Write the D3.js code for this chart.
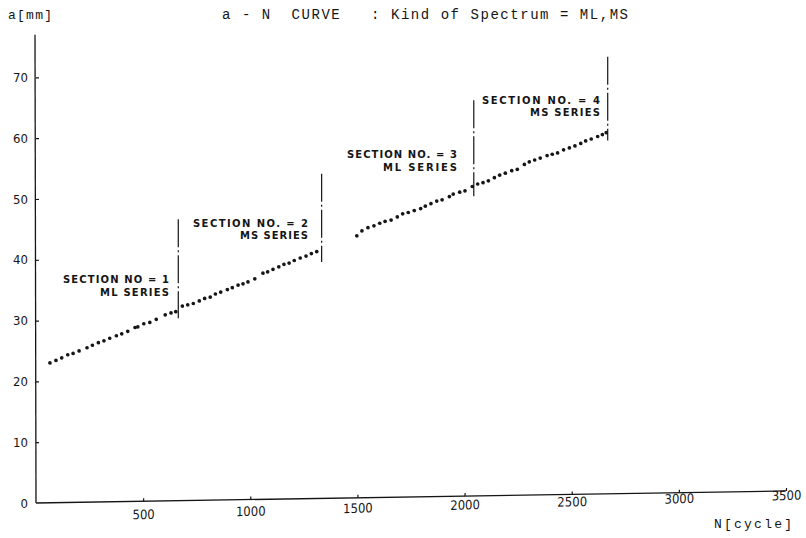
<!DOCTYPE html>
<html>
<head>
<meta charset="utf-8">
<script src="https://cdn.jsdelivr.net/npm/d3@7"></script>
<style>
  html, body { margin: 0; padding: 0; background: #fff; }
  svg { display: block; }
  text { white-space: pre; }
</style>
</head>
<body>
<svg id="chart" width="806" height="538"></svg>
<script>
// Crack length a [mm] against load cycles N, one dotted run per loading section.
const sec1N = [65, 93, 120, 148, 173, 201, 238, 263, 291, 317, 344, 375, 400, 428, 462, 475, 503, 531, 561, 603, 630, 652];
const sec1A = [23.0, 23.4, 23.8, 24.3, 24.5, 24.9, 25.4, 25.8, 26.2, 26.5, 26.9, 27.3, 27.6, 28.0, 28.6, 28.7, 29.2, 29.4, 29.9, 30.6, 30.9, 31.1];

const sec2N = [683, 708, 734, 762, 787, 813, 837, 862, 893, 916, 943, 966, 989, 1021, 1059, 1081, 1106, 1133, 1157, 1181, 1205, 1233, 1260, 1285, 1310];
const sec2A = [32.0, 32.2, 32.4, 32.8, 33.2, 33.4, 33.9, 34.2, 34.6, 34.9, 35.3, 35.5, 35.8, 36.3, 37.2, 37.4, 37.8, 38.2, 38.6, 38.8, 39.2, 39.6, 39.9, 40.3, 40.6];

const sec3N = [1497, 1521, 1549, 1577, 1604, 1629, 1657, 1686, 1711, 1737, 1765, 1795, 1817, 1843, 1870, 1895, 1929, 1947, 1977, 2002, 2036];
const sec3A = [43.1, 43.9, 44.4, 44.7, 45.1, 45.4, 45.6, 46.1, 46.6, 46.8, 47.1, 47.4, 47.8, 48.2, 48.6, 48.8, 49.3, 49.7, 50.0, 50.2, 50.9];

const sec4N = [2061, 2086, 2111, 2139, 2164, 2190, 2220, 2246, 2279, 2302, 2327, 2353, 2385, 2409, 2434, 2462, 2489, 2515, 2542, 2565, 2591, 2621, 2643, 2661];
const sec4A = [51.3, 51.5, 51.8, 52.3, 52.7, 53.0, 53.4, 53.6, 54.4, 54.8, 55.1, 55.4, 55.8, 56.0, 56.2, 56.7, 57.0, 57.3, 57.7, 58.1, 58.4, 58.8, 59.1, 59.4];

// Section boundary markers (cycle count, and crack-length span of each marker)
const boundaryN = [664, 1333, 2043, 2668];
const boundaryTopA = [46.3, 53.4, 65.1, 71.9];
const boundaryBottomA = [30.0, 38.9, 49.3, 58.1];

const sectionTitles = ["SECTION NO = 1", "SECTION NO. = 2", "SECTION NO. = 3", "SECTION NO. = 4"];
const sectionSeries = ["ML SERIES", "MS SERIES", "ML SERIES", "MS SERIES"];

const xTicks = [500, 1000, 1500, 2000, 2500, 3000, 3500];
const yTicks = [10, 20, 30, 40, 50, 60, 70];
const yTickLabels = [0, 10, 20, 30, 40, 50, 60, 70];

const titleText = "a - N  CURVE   : Kind of Spectrum = ML,MS";
const yAxisTitle = "a[mm]";
const xAxisTitle = "N[cycle]";

// ---- layout ----
const ink = "#151515";
const origin = { x: 36, y: 503 };
const x = d3.scaleLinear().domain([0, 3500]).range([origin.x, 786]);
const y = d3.scaleLinear().domain([0, 70]).range([origin.y, 77.4]);
const yAxisTop = 77;

const svg = d3.select("#chart");
const mono = "'Liberation Mono', 'DejaVu Sans Mono', monospace";
const narrow = "'Liberation Sans Narrow', 'DejaVu Sans Condensed', 'Liberation Sans', sans-serif";
const sans = "'DejaVu Sans', 'Liberation Sans', sans-serif";
const plain = d3.format("d");

// the plotted sheet runs slightly uphill to the right
const sheet = svg.append("g")
  .attr("transform", `translate(${origin.x},${origin.y}) skewY(-0.92) translate(${-origin.x},${-origin.y})`);

// y axis: line plus short inward ticks, labels to the left
sheet.append("line")
  .attr("x1", x(0)).attr("x2", x(0) - 1)
  .attr("y1", y(0)).attr("y2", y(yAxisTop))
  .attr("stroke", ink).attr("stroke-width", 1.3);

const yAxis = d3.axisLeft(y).tickValues(yTicks).tickSizeInner(-3).tickSizeOuter(0).tickFormat(() => "");
const gy = sheet.append("g").attr("transform", `translate(${x(0)},0)`).call(yAxis);
gy.select(".domain").remove();
gy.selectAll(".tick line").attr("stroke", ink).attr("stroke-width", 1.2);

// y tick labels
const yLab = d3.axisLeft(y).tickValues(yTickLabels).tickSize(0).tickPadding(8).tickFormat(plain);
const gyl = svg.append("g").attr("transform", `translate(${x(0)},0)`).call(yLab);
gyl.select(".domain").remove();
gyl.selectAll(".tick text")
  .attr("font-family", narrow).attr("font-size", 13).attr("fill", ink)
  .attr("font-stretch", "condensed");

// x axis: line with small upward ticks
const xAxis = d3.axisBottom(x).tickValues(xTicks).tickSizeInner(-3).tickSizeOuter(0).tickFormat(() => "");
const gx = sheet.append("g").attr("transform", `translate(0,${origin.y})`).call(xAxis);
gx.select(".domain").attr("stroke", ink).attr("stroke-width", 1.3)
  .attr("d", `M${x(0)},0H${x(3500)}`);
gx.selectAll(".tick line").attr("stroke", ink).attr("stroke-width", 1.2);

// x tick labels (printed on a slightly steeper slant than the axis line)
const xLabGroup = svg.append("g")
  .attr("transform", `translate(${origin.x},${origin.y}) skewY(-1.69) translate(${-origin.x},${-origin.y})`);
const xLab = d3.axisBottom(x).tickValues(xTicks).tickSize(0).tickPadding(10).tickFormat(plain);
const gxl = xLabGroup.append("g").attr("transform", `translate(0,${origin.y})`).call(xLab);
gxl.select(".domain").remove();
gxl.selectAll(".tick text")
  .attr("font-family", narrow).attr("font-size", 13).attr("fill", ink)
  .attr("font-stretch", "condensed");

// section boundary markers
const boundaries = boundaryN.map((n, i) => ({ n, top: boundaryTopA[i], bottom: boundaryBottomA[i] }));
sheet.append("g").selectAll("line").data(boundaries).join("line")
  .attr("x1", d => x(d.n)).attr("x2", d => x(d.n))
  .attr("y1", d => y(d.top)).attr("y2", d => y(d.bottom))
  .attr("stroke", ink).attr("stroke-width", 1.2)
  .attr("stroke-dasharray", "28,3,2,3");

// crack-growth points
const sections = [
  { n: sec1N, a: sec1A },
  { n: sec2N, a: sec2A },
  { n: sec3N, a: sec3A },
  { n: sec4N, a: sec4A }
];
const points = sections.flatMap(s => s.n.map((n, i) => ({ n, a: s.a[i] })));
sheet.append("g").selectAll("circle").data(points).join("circle")
  .attr("cx", d => x(d.n)).attr("cy", d => y(d.a))
  .attr("r", 1.85).attr("fill", ink);

// section captions, right-aligned beside each marker
const captionPlacement = [
  { right: 169, y1: 283, y2: 296, w1: 106, w2: 69 },
  { right: 308, y1: 227, y2: 239, w1: 115, w2: 68 },
  { right: 457, y1: 158, y2: 171, w1: 110, w2: 74 },
  { right: 600, y1: 104, y2: 116, w1: 118, w2: 70 }
];
const captions = svg.append("g")
  .attr("font-family", sans).attr("font-size", 10).attr("font-weight", "bold").attr("fill", ink);
captionPlacement.forEach((p, i) => {
  captions.append("text")
    .attr("x", p.right - p.w1).attr("y", p.y1)
    .attr("textLength", p.w1).attr("lengthAdjust", "spacing")
    .text(sectionTitles[i]);
  captions.append("text")
    .attr("x", p.right - p.w2).attr("y", p.y2)
    .attr("textLength", p.w2).attr("lengthAdjust", "spacing")
    .text(sectionSeries[i]);
});

// title and axis names
svg.append("text")
  .attr("x", 222).attr("y", 19)
  .attr("font-family", mono).attr("font-size", 14).attr("fill", ink)
  .attr("textLength", 406).attr("lengthAdjust", "spacing")
  .text(titleText);

svg.append("text")
  .attr("x", 8).attr("y", 19)
  .attr("font-family", mono).attr("font-size", 13).attr("fill", ink)
  .attr("textLength", 44).attr("lengthAdjust", "spacing")
  .text(yAxisTitle);

svg.append("text")
  .attr("x", 714).attr("y", 528)
  .attr("font-family", mono).attr("font-size", 13).attr("fill", ink)
  .attr("textLength", 78).attr("lengthAdjust", "spacing")
  .text(xAxisTitle);
</script>
</body>
</html>
